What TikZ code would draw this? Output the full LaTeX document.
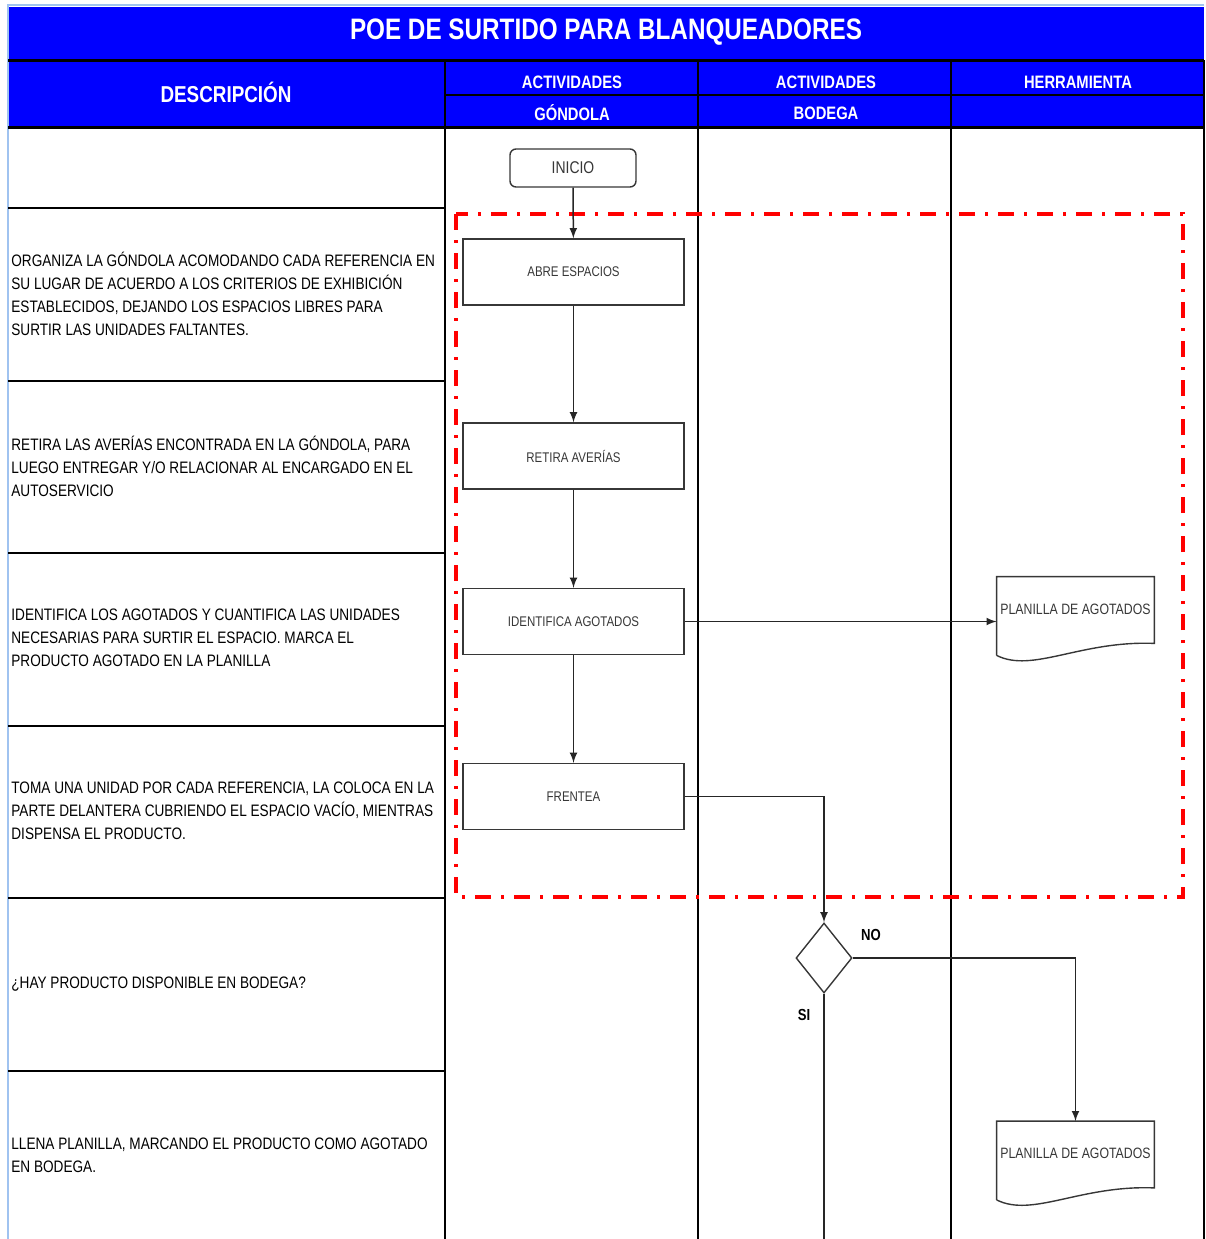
\documentclass[tikz,border=0pt]{standalone}
\usepackage{fontspec}
\setmainfont{Liberation Sans}[FakeStretch=0.82]
\usepackage{tikz}
\usetikzlibrary{arrows,shapes.geometric}
\definecolor{azul}{RGB}{0,0,255}
\definecolor{celeste}{RGB}{160,195,240}
\definecolor{gris}{RGB}{55,55,55}
\newcommand{\hoja}[1]{\draw[gris,line width=0.7pt] (#1.south west) |- (#1.north east) -- ([yshift=6pt]#1.south east) .. controls +(-37pt,1.5pt) and +(18pt,-9pt) .. (#1.south west);}

\begin{document}
\begin{tikzpicture}[x=0.5pt,y=-0.5pt,
    titulo/.style={text=white,font=\bfseries\fontsize{14.8}{17}\selectfont},
    cabecera/.style={text=white,font=\bfseries\fontsize{9}{11}\selectfont},
    desc/.style={anchor=west,align=left,inner sep=0pt,font=\fontsize{8.3}{11.5}\selectfont},
    paso/.style={draw=gris,fill=white,line width=0.7pt,minimum width=110.5pt,minimum height=33pt,inner sep=0pt,text=gris,font=\fontsize{7}{8}\selectfont},
    inicio/.style={paso,rounded corners=3pt,minimum width=63pt,minimum height=19pt,font=\fontsize{8.5}{10}\selectfont},
    decision/.style={diamond,draw=gris,line width=0.7pt,minimum width=28pt,minimum height=35pt,inner sep=0pt},
    hojanodo/.style={minimum width=78.5pt,inner sep=0pt,text height=18.5pt,text depth=20.5pt,text=gris,font=\fontsize{7.5}{9}\selectfont},
    etiqueta/.style={text=black,font=\bfseries\fontsize{8}{9}\selectfont},
    flecha/.style={-latex,draw=black!85,line width=0.75pt},
    linea/.style={draw=black!85,line width=0.75pt}]
  \useasboundingbox (0,0) rectangle (1206,1239);

  % Encabezado
  \fill[azul] (8,7) rectangle (1204,127);
  \draw[celeste,line width=1pt] (8,1239) -- (8,5) -- (1204,5);
  \draw[line width=1.5pt] (8,60) -- (1204,60);
  \draw[line width=1.5pt] (8,127) -- (1204,127);
  \draw[line width=1pt] (445,95) -- (1204,95);
  \foreach \x in {445,698,951,1204}
    \draw[line width=1pt] (\x,60) -- (\x,1239);
  \foreach \y in {208,381,553,726,898,1071}
    \draw[line width=0.7pt] (8,\y) -- (445,\y);

  \node[titulo] (tit) at (606,32) {POE DE SURTIDO PARA BLANQUEADORES};
  \node[cabecera,font=\bfseries\fontsize{11.5}{13}\selectfont] (hdes) at (226,92) {DESCRIPCIÓN};
  \node[cabecera] (hact1) at (572,82) {ACTIVIDADES};
  \node[cabecera] (hact2) at (826,82) {ACTIVIDADES};
  \node[cabecera] (hher) at (1078,82) {HERRAMIENTA};
  \node[cabecera] (hgon) at (572,113) {GÓNDOLA};
  \node[cabecera] (hbod) at (826,113) {BODEGA};

  % Descripciones
  \node[desc] (d1) at (11,294) {ORGANIZA LA GÓNDOLA ACOMODANDO CADA REFERENCIA EN\\SU LUGAR DE ACUERDO A LOS CRITERIOS DE EXHIBICIÓN\\ESTABLECIDOS, DEJANDO LOS ESPACIOS LIBRES PARA\\SURTIR LAS UNIDADES FALTANTES.};
  \node[desc] (d2) at (11,466) {RETIRA LAS AVERÍAS ENCONTRADA EN LA GÓNDOLA, PARA\\LUEGO ENTREGAR Y/O RELACIONAR AL ENCARGADO EN EL\\AUTOSERVICIO};
  \node[desc] (d3) at (11,638) {IDENTIFICA LOS AGOTADOS Y CUANTIFICA LAS UNIDADES\\NECESARIAS PARA SURTIR EL ESPACIO. MARCA EL\\PRODUCTO AGOTADO EN LA PLANILLA};
  \node[desc] (d4) at (11,811) {TOMA UNA UNIDAD POR CADA REFERENCIA, LA COLOCA EN LA\\PARTE DELANTERA CUBRIENDO EL ESPACIO VACÍO, MIENTRAS\\DISPENSA EL PRODUCTO.};
  \node[desc] (d5) at (11,984) {¿HAY PRODUCTO DISPONIBLE EN BODEGA?};
  \node[desc] (d6) at (11,1155) {LLENA PLANILLA, MARCANDO EL PRODUCTO COMO AGOTADO\\EN BODEGA.};

  % Zona punteada
  \draw[red,line width=1.6pt,dash pattern=on 8pt off 5pt on 1.5pt off 5pt] (456,214) rectangle (1183,897);

  % Flujo
  \node[inicio] (ini) at (573,168) {INICIO};
  \node[paso] (abr) at (573.5,272) {ABRE ESPACIOS};
  \node[paso] (ret) at (573.5,456) {RETIRA AVERÍAS};
  \node[paso] (ide) at (573.5,621.5) {IDENTIFICA AGOTADOS};
  \node[paso] (fre) at (573.5,796.5) {FRENTEA};
  \node[decision] (dec) at (824,958) {};
  \node[hojanodo] (pl1) at (1075.5,616) {PLANILLA DE AGOTADOS};
  \node[hojanodo] (pl2) at (1075.5,1160.5) {PLANILLA DE AGOTADOS};
  \hoja{pl1}
  \hoja{pl2}
  \coordinate (fin) at (824,1239);

  \draw[flecha] (ini) -- (abr);
  \draw[flecha] (abr) -- (ret);
  \draw[flecha] (ret) -- (ide);
  \draw[flecha] (ide) -- (fre);
  \draw[flecha] (ide.east) -- (ide.east -| pl1.west);
  \draw[flecha] (fre.east) -| (dec.north);
  \draw[flecha] (dec.east) -| (pl2.north);
  \draw[linea] (dec.south) -- (fin);

  \node[etiqueta] (no) at (871,935) {NO};
  \node[etiqueta] (si) at (804,1015) {SI};
\end{tikzpicture}
\end{document}
